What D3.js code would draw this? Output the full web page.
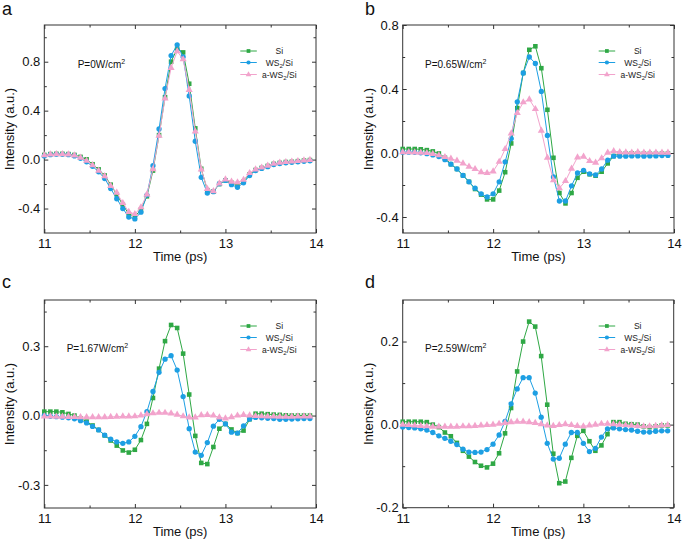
<!DOCTYPE html>
<html><head><meta charset="utf-8">
<script src="https://cdn.jsdelivr.net/npm/d3@7"></script>
<style>body{margin:0;background:#fff}svg{display:block}text{font-family:"Liberation Sans",Arial,sans-serif}</style>
</head><body><svg id="c" width="685" height="542"></svg>
<script>
// ---------- data ----------
const time=[11.000,11.067,11.133,11.200,11.267,11.333,11.400,11.467,11.533,11.600,11.667,11.733,11.800,11.867,11.933,12.000,12.067,12.133,12.200,12.267,12.333,12.400,12.467,12.533,12.600,12.667,12.733,12.800,12.867,12.933,13.000,13.067,13.133,13.200,13.267,13.333,13.400,13.467,13.533,13.600,13.667,13.733,13.800,13.867,13.933];
const seriesNames=["Si","WS2/Si","a-WS2/Si"];
const panelLetters=["a","b","c","d"];
const powerValues=["0","0.65","1.67","2.59"];
const xMajorTicks=[11,12,13,14];
const xMinorTicks=[11.5,12.5,13.5];
const yDomains=[[-0.6,1.1],[-0.5,0.8],[-0.4,0.5],[-0.2,0.3]];
const yMajorTicks=[[-0.4,0,0.4,0.8],[-0.4,0,0.4,0.8],[-0.3,0,0.3],[-0.2,0,0.2]];
const yMinorTicks=[[-0.2,0.2,0.6,1.0],[-0.2,0.2,0.6],[-0.15,0.15,0.45],[-0.1,0.1]];

// panel a (P=0)
const siA=[0.038,0.045,0.047,0.047,0.045,0.038,0.022,0.002,-0.038,-0.080,-0.130,-0.205,-0.285,-0.370,-0.445,-0.465,-0.410,-0.300,-0.090,0.200,0.510,0.800,0.905,0.876,0.620,0.255,-0.075,-0.250,-0.262,-0.200,-0.170,-0.190,-0.210,-0.180,-0.120,-0.085,-0.068,-0.052,-0.035,-0.027,-0.020,-0.018,-0.013,-0.008,-0.004];
const ws2A=[0.030,0.040,0.043,0.043,0.040,0.030,0.010,-0.018,-0.055,-0.100,-0.155,-0.237,-0.320,-0.400,-0.470,-0.485,-0.430,-0.290,-0.050,0.250,0.580,0.850,0.938,0.840,0.520,0.150,-0.145,-0.274,-0.262,-0.197,-0.170,-0.205,-0.227,-0.190,-0.130,-0.090,-0.072,-0.058,-0.040,-0.032,-0.026,-0.022,-0.018,-0.014,-0.010];
const aws2A=[0.035,0.043,0.045,0.045,0.042,0.034,0.016,-0.010,-0.045,-0.090,-0.135,-0.215,-0.270,-0.355,-0.428,-0.445,-0.390,-0.285,-0.078,0.195,0.500,0.750,0.885,0.820,0.570,0.230,-0.080,-0.240,-0.258,-0.195,-0.162,-0.180,-0.186,-0.165,-0.110,-0.080,-0.065,-0.050,-0.034,-0.025,-0.020,-0.016,-0.012,-0.007,-0.003];
// panel b (P=0.65)
const siB=[0.025,0.025,0.025,0.023,0.018,0.010,-0.003,-0.030,-0.070,-0.100,-0.140,-0.180,-0.225,-0.260,-0.290,-0.290,-0.235,-0.120,0.060,0.280,0.500,0.645,0.667,0.530,0.270,-0.030,-0.250,-0.315,-0.250,-0.155,-0.117,-0.133,-0.142,-0.117,-0.065,-0.019,-0.003,-0.003,-0.002,-0.002,-0.003,-0.004,-0.004,-0.003,-0.003];
const ws2B=[0.005,0.005,0.004,0.001,-0.004,-0.012,-0.022,-0.042,-0.070,-0.100,-0.140,-0.180,-0.220,-0.255,-0.275,-0.255,-0.180,-0.055,0.090,0.320,0.500,0.600,0.560,0.385,0.110,-0.150,-0.300,-0.300,-0.205,-0.125,-0.108,-0.130,-0.137,-0.100,-0.045,-0.020,-0.020,-0.020,-0.018,-0.018,-0.020,-0.018,-0.018,-0.016,-0.015];
const aws2B=[0.005,0.005,0.004,0.002,0.000,-0.006,-0.014,-0.025,-0.035,-0.048,-0.065,-0.085,-0.100,-0.120,-0.125,-0.115,-0.055,0.025,0.123,0.250,0.317,0.335,0.275,0.140,-0.030,-0.170,-0.220,-0.175,-0.098,-0.027,-0.023,-0.050,-0.060,-0.033,0.002,0.012,0.005,0.004,0.003,0.005,0.003,0.003,0.003,0.002,0.002];
// panel c (P=1.67)
const siC=[0.017,0.017,0.017,0.014,0.007,0.000,-0.012,-0.026,-0.043,-0.062,-0.086,-0.108,-0.130,-0.151,-0.160,-0.148,-0.106,-0.036,0.076,0.203,0.322,0.392,0.379,0.268,0.091,-0.088,-0.205,-0.210,-0.136,-0.057,-0.036,-0.060,-0.076,-0.065,-0.016,0.008,0.008,0.006,0.004,0.003,0.001,0.000,0.000,0.000,0.000];
const ws2C=[0.000,-0.003,-0.005,-0.007,-0.010,-0.014,-0.022,-0.032,-0.047,-0.062,-0.085,-0.102,-0.114,-0.120,-0.114,-0.090,-0.048,0.017,0.104,0.187,0.244,0.259,0.197,0.082,-0.057,-0.158,-0.172,-0.117,-0.046,-0.016,-0.036,-0.072,-0.076,-0.045,-0.015,-0.008,-0.010,-0.012,-0.013,-0.016,-0.016,-0.015,-0.014,-0.013,-0.013];
const aws2C=[-0.004,-0.004,-0.005,-0.005,-0.006,-0.006,-0.007,-0.007,-0.007,-0.007,-0.007,-0.006,-0.005,-0.004,-0.004,-0.003,0.001,0.006,0.010,0.012,0.012,0.009,0.004,-0.003,-0.008,-0.008,0.002,0.003,0.000,-0.008,-0.012,-0.007,0.000,0.003,0.001,-0.002,-0.003,-0.004,-0.004,-0.005,-0.005,-0.005,-0.004,-0.004,-0.004];
// panel d (P=2.59)
const siD=[0.007,0.007,0.007,0.007,0.006,0.000,-0.006,-0.019,-0.028,-0.044,-0.063,-0.077,-0.090,-0.099,-0.103,-0.094,-0.069,-0.021,0.040,0.128,0.200,0.248,0.236,0.165,0.048,-0.070,-0.141,-0.137,-0.080,-0.027,-0.015,-0.040,-0.063,-0.050,-0.023,0.006,0.006,0.002,0.001,0.000,-0.004,-0.006,-0.004,-0.002,-0.002];
const ws2D=[-0.006,-0.007,-0.008,-0.010,-0.013,-0.019,-0.027,-0.033,-0.040,-0.048,-0.059,-0.066,-0.067,-0.066,-0.060,-0.047,-0.025,0.008,0.050,0.086,0.113,0.113,0.076,0.018,-0.045,-0.083,-0.081,-0.047,-0.019,-0.019,-0.045,-0.065,-0.057,-0.030,-0.010,-0.008,-0.010,-0.012,-0.013,-0.016,-0.018,-0.018,-0.016,-0.015,-0.015];
const aws2D=[0.000,-0.001,-0.002,-0.003,-0.004,-0.005,-0.005,-0.005,-0.005,-0.005,-0.004,-0.004,-0.003,-0.002,-0.001,0.000,0.002,0.004,0.006,0.007,0.007,0.006,0.004,0.001,-0.002,-0.003,-0.001,0.001,-0.001,-0.003,-0.004,-0.002,0.000,0.002,0.002,0.001,0.000,-0.001,-0.002,-0.003,-0.004,-0.004,-0.003,-0.002,-0.001];

const panelSeries=[[siA,ws2A,aws2A],[siB,ws2B,aws2B],[siC,ws2C,aws2C],[siD,ws2D,aws2D]];

// ---------- layout & style ----------
const layout=[
 {x:44.3,y:25,w:271.7,h:208,lx:2,ly:15,px:33.4,py:43},
 {x:402.7,y:25,w:271.3,h:208,lx:365,ly:15,px:22.3,py:43},
 {x:44.3,y:300,w:271.7,h:208,lx:2,ly:288,px:22.4,py:51.7},
 {x:402.7,y:300,w:271,h:207.7,lx:365,ly:288,px:22.3,py:51.7}
];
const colors=["#2fa845","#1d9fe3","#f2a3cc"];
const symbols=[d3.symbolSquare,d3.symbolCircle,d3.symbolTriangle];
const symSizes=[21,22,22];
const legendRows=[26,37.5,49.5];

const svg=d3.select("#c");
const fmtC=v=>(v===0?"0.0":v.toFixed(1));

function richName(textSel,name){
  if(name==="Si"){textSel.text("Si");return;}
  const pre=name.startsWith("a-")?"a-WS":"WS";
  textSel.append("tspan").text(pre);
  textSel.append("tspan").attr("dy",2).attr("font-size",6).text("2");
  textSel.append("tspan").attr("dy",-2).text("/Si");
}

layout.forEach((L,p)=>{
  const g=svg.append("g").attr("transform",`translate(${L.x},${L.y})`);
  const x=d3.scaleLinear().domain([11,14]).range([0,L.w]);
  const y=d3.scaleLinear().domain(yDomains[p]).range([L.h,0]);

  function styleAxis(a){a.select(".domain").remove();a.selectAll("line").attr("stroke","#333");a.selectAll("text").attr("font-size",13).attr("fill","#111").attr("font-family",'"Liberation Sans",Arial,sans-serif');}

  g.append("g").attr("transform",`translate(0,${L.h})`)
   .call(d3.axisBottom(x).tickValues(xMajorTicks).tickFormat(d3.format("d")).tickSizeInner(-4).tickSizeOuter(0).tickPadding(6)).call(styleAxis);
  g.append("g").attr("transform",`translate(0,${L.h})`)
   .call(d3.axisBottom(x).tickValues(xMinorTicks).tickFormat("").tickSizeInner(-2.5).tickSizeOuter(0)).call(styleAxis);
  g.append("g").call(d3.axisTop(x).tickValues(xMajorTicks).tickFormat("").tickSizeInner(-4).tickSizeOuter(0)).call(styleAxis);
  g.append("g").call(d3.axisTop(x).tickValues(xMinorTicks).tickFormat("").tickSizeInner(-2.5).tickSizeOuter(0)).call(styleAxis);
  g.append("g").call(d3.axisLeft(y).tickValues(yMajorTicks[p]).tickFormat(fmtC).tickSizeInner(-4).tickSizeOuter(0).tickPadding(4)).call(styleAxis);
  g.append("g").call(d3.axisLeft(y).tickValues(yMinorTicks[p]).tickFormat("").tickSizeInner(-2.5).tickSizeOuter(0)).call(styleAxis);
  g.append("g").attr("transform",`translate(${L.w},0)`).call(d3.axisRight(y).tickValues(yMajorTicks[p]).tickFormat("").tickSizeInner(-4).tickSizeOuter(0)).call(styleAxis);
  g.append("g").attr("transform",`translate(${L.w},0)`).call(d3.axisRight(y).tickValues(yMinorTicks[p]).tickFormat("").tickSizeInner(-2.5).tickSizeOuter(0)).call(styleAxis);

  g.append("rect").attr("width",L.w).attr("height",L.h).attr("fill","none").attr("stroke","#333").attr("stroke-width",1);

  const line=d3.line().x((d,i)=>x(time[i])).y(d=>y(d));
  panelSeries[p].forEach((vals,k)=>{
    g.append("path").datum(vals).attr("d",line).attr("fill","none").attr("stroke",colors[k]).attr("stroke-width",1);
    g.append("g").selectAll("path").data(vals).join("path")
     .attr("transform",(d,i)=>`translate(${x(time[i])},${y(d)})`)
     .attr("d",d3.symbol().type(symbols[k]).size(symSizes[k]))
     .attr("fill",colors[k]);
  });

  seriesNames.forEach((name,k)=>{
    const ry=legendRows[k];
    g.append("line").attr("x1",196).attr("x2",212.5).attr("y1",ry).attr("y2",ry).attr("stroke",colors[k]).attr("stroke-width",1);
    g.append("path").attr("transform",`translate(204.2,${ry})`).attr("d",d3.symbol().type(symbols[k]).size(14)).attr("fill",colors[k]);
    const t=g.append("text").attr("x",235).attr("y",ry+3).attr("text-anchor","middle").attr("font-size",8.5).attr("fill","#222");
    richName(t,name);
  });

  const pt=g.append("text").attr("x",L.px).attr("y",L.py).attr("font-size",10).attr("fill","#111");
  pt.append("tspan").text(`P=${powerValues[p]}W/cm`);
  pt.append("tspan").attr("dy",-4).attr("font-size",7).text("2");

  g.append("text").attr("x",L.w/2).attr("y",L.h+28).attr("text-anchor","middle").attr("font-size",13).attr("fill","#111").text("Time (ps)");
  g.append("text").attr("transform",`translate(-30,${L.h/2}) rotate(-90)`).attr("text-anchor","middle").attr("font-size",13).attr("fill","#111").text("Intensity (a.u.)");

  svg.append("text").attr("x",L.lx).attr("y",L.ly).attr("font-size",18).attr("fill","#111").text(panelLetters[p]);
});
</script></body></html>
